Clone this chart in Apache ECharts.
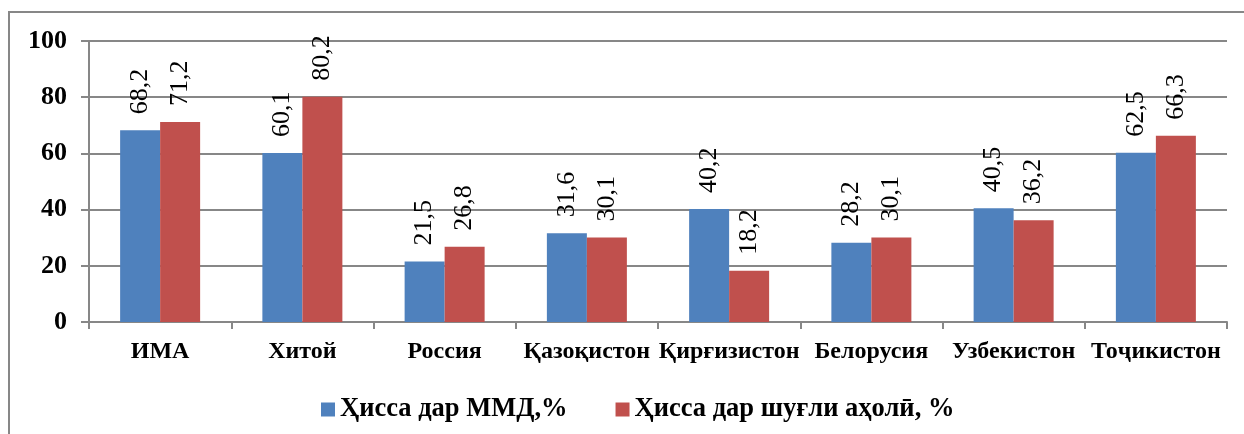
<!DOCTYPE html>
<html>
<head>
<meta charset="utf-8">
<script src="https://cdn.jsdelivr.net/npm/echarts@6/dist/echarts.min.js"></script>
<style>
  html, body { margin: 0; padding: 0; background: #fff; }
  #chart { width: 1244px; height: 434px; }
</style>
</head>
<body>
<div id="chart"></div>
<script>
  var countries = ['ИМА', 'Хитой', 'Россия', 'Қазоқистон', 'Қирғизистон', 'Белорусия', 'Узбекистон', 'Тоҷикистон'];
  var seriesNames = ['Ҳисса дар ММД,%', 'Ҳисса дар шуғли аҳолӣ, %'];
  // bar heights as drawn
  var gdpShare = [68.2, 60.1, 21.5, 31.6, 40.2, 28.2, 40.5, 60.2];
  var jobShare = [71.2, 80.2, 26.8, 30.1, 18.2, 30.1, 36.2, 66.3];
  // label texts as printed
  var gdpLabels = ['68,2', '60,1', '21,5', '31,6', '40,2', '28,2', '40,5', '62,5'];
  var jobLabels = ['71,2', '80,2', '26,8', '30,1', '18,2', '30,1', '36,2', '66,3'];
  var yTicks = [0, 20, 40, 60, 80, 100];

  var serif = '"Liberation Serif", "Times New Roman", serif';
  var gray = '#878787';

  var makeSerie = function(name, values, labels, color) {
    return {
      name: name,
      type: 'bar',
      data: values,
      barWidth: 40,
      barGap: '0%',
      itemStyle: { color: color },
      label: {
        show: true,
        position: 'top',
        rotate: 90,
        align: 'left',
        verticalAlign: 'middle',
        distance: 16,
        fontFamily: serif,
        fontSize: 26,
        color: '#000',
        formatter: function(p) { return labels[p.dataIndex]; }
      }
    };
  };

  var chart = echarts.init(document.getElementById('chart'));
  chart.setOption({
    animation: false,
    backgroundColor: '#fff',
    graphic: [{
      type: 'rect',
      shape: { x: 9, y: 12, width: 1300, height: 500 },
      style: { fill: 'none', stroke: gray, lineWidth: 2 },
      silent: true
    }],
    grid: { left: 89, right: 17, top: 41, bottom: 112 },
    legend: {
      left: 316,
      top: 391,
      itemWidth: 14,
      itemHeight: 14,
      itemGap: 48,
      icon: 'rect',
      textStyle: { fontFamily: serif, fontSize: 26.5, lineHeight: 27, fontWeight: 'bold', color: '#000' },
      data: seriesNames
    },
    xAxis: {
      type: 'category',
      data: countries,
      axisLine: { lineStyle: { color: gray, width: 2 } },
      axisTick: { show: true, length: 7, lineStyle: { color: gray, width: 2 } },
      axisLabel: { fontFamily: serif, fontSize: 24, fontWeight: 'bold', color: '#000', margin: 18, interval: 0 }
    },
    yAxis: {
      type: 'value',
      min: yTicks[0],
      max: yTicks[yTicks.length - 1],
      interval: 20,
      axisLine: { show: true, lineStyle: { color: gray, width: 2 } },
      axisTick: { show: true, length: 8, lineStyle: { color: gray, width: 2 } },
      splitLine: { lineStyle: { color: gray, width: 2 } },
      axisLabel: { fontFamily: serif, fontSize: 26, fontWeight: 'bold', color: '#000', margin: 22 }
    },
    series: [
      makeSerie(seriesNames[0], gdpShare, gdpLabels, '#4F81BD'),
      makeSerie(seriesNames[1], jobShare, jobLabels, '#C0504D')
    ]
  });
</script>
</body>
</html>
